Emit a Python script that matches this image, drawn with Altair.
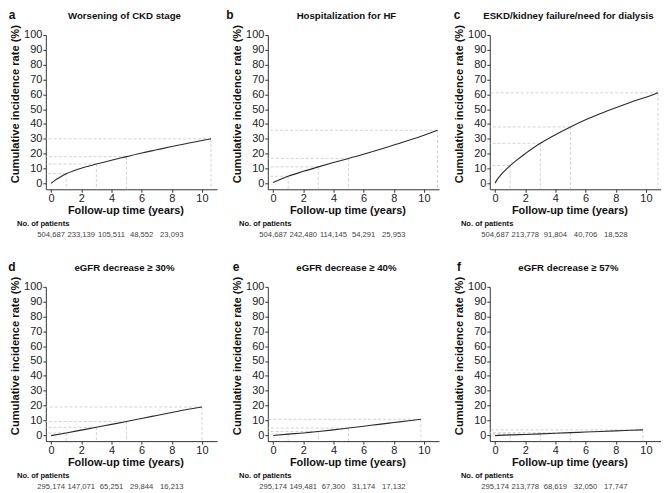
import altair as alt
import pandas as pd

FONT = "Liberation Sans"

TITLES = [
    "Worsening of CKD stage",
    "Hospitalization for HF",
    "ESKD/kidney failure/need for dialysis",
    "eGFR decrease \u2265 30%",
    "eGFR decrease \u2265 40%",
    "eGFR decrease \u2265 57%",
]
LETTERS = ["a", "b", "c", "d", "e", "f"]
LETTER_X = [-34, -38, -33, -34, -32, -31]

# cumulative incidence curves (years, %)
A_T = [0, 0.25, 0.5, 1, 1.5, 2, 3, 4, 5, 6, 7, 8, 9, 10, 10.6]
A_V = [0, 2.0, 3.6, 6.5, 8.5, 10.2, 13.0, 15.6, 18.0, 20.4, 22.6, 24.8, 26.9, 28.9, 30.0]

B_T = [0, 0.5, 1, 2, 3, 4, 5, 6, 7, 8, 9, 10, 10.9]
B_V = [0.5, 2.7, 4.8, 8.1, 11.1, 14.0, 16.8, 19.6, 22.6, 25.8, 29.0, 32.4, 35.8]

C_T = [0, 0.1, 0.25, 0.5, 1, 1.5, 2, 3, 4, 5, 6, 7, 8, 9, 10, 10.8]
C_V = [0, 2.0, 4.0, 7.0, 12.0, 16.2, 20.0, 27.0, 32.8, 38.0, 42.8, 47.1, 51.0, 54.7, 58.0, 61.0]

D_T = [0, 1, 2, 3, 4, 5, 6, 7, 8, 9, 10]
D_V = [-0.3, 1.5, 3.4, 5.3, 7.3, 9.2, 11.3, 13.3, 15.3, 17.3, 19.0]

E_T = [0, 1, 2, 3, 4, 5, 6, 7, 8, 9, 9.8]
E_V = [-0.2, 0.7, 1.5, 2.5, 3.6, 4.8, 6.0, 7.3, 8.5, 9.7, 10.7]

F_T = [0, 1, 2, 3, 4, 5, 6, 7, 8, 9, 9.8]
F_V = [-0.3, 0.2, 0.5, 0.9, 1.3, 1.7, 2.1, 2.5, 2.9, 3.3, 3.6]

REF_T = [1, 3, 5]

RISK_T = [0, 2, 4, 6, 8]
A_RISK = ["504,687", "233,139", "105,511", "48,552", "23,093"]
B_RISK = ["504,687", "242,480", "114,145", "54,291", "25,953"]
C_RISK = ["504,687", "213,778", "91,804", "40,706", "18,528"]
D_RISK = ["295,174", "147,071", "65,251", "29,844", "16,213"]
E_RISK = ["295,174", "149,481", "67,300", "31,174", "17,132"]
F_RISK = ["295,174", "213,778", "68,619", "32,050", "17,747"]

W, H = 172, 155
XMIN, XMAX = -0.35, 11.0
YMIN, YMAX = -4, 100


def panel(title, letter, lx, ts, vs, risk):
    curve = pd.DataFrame({"t": ts, "v": vs})
    lookup = dict(zip(ts, vs))
    ref_t = REF_T + [ts[-1]]
    refs = pd.DataFrame({"t": ref_t, "v": [lookup[x] for x in ref_t]})
    at_risk = pd.DataFrame({"t": RISK_T, "n": risk})

    xs = alt.Scale(domain=[XMIN, XMAX], nice=False, zero=False)
    ys = alt.Scale(domain=[YMIN, YMAX], nice=False, zero=False)
    xaxis = alt.Axis(
        values=[0, 2, 4, 6, 8, 10], title="Follow-up time (years)",
        titleFont=FONT, titleFontSize=11, titleFontWeight="bold", titleColor="#111",
        titleX=80, titlePadding=1,
        labelFont=FONT, labelFontSize=11, labelColor="#222", labelPadding=0,
        labelFlush=False, tickSize=3, tickColor="#333", domainColor="#333",
        grid=False,
    )
    yaxis = alt.Axis(
        values=list(range(0, 101, 10)), title="Cumulative incidence rate (%)",
        titleFont=FONT, titleFontSize=11.2, titleFontWeight="bold", titleColor="#111",
        titleY=69, titlePadding=3,
        labelFont=FONT, labelFontSize=11, labelColor="#222", labelPadding=1,
        labelFlush=False, tickSize=3, tickColor="#333", domainColor="#333",
        grid=False,
    )
    X = alt.X("t:Q", scale=xs, axis=xaxis)
    Y = alt.Y("v:Q", scale=ys, axis=yaxis)

    dash = dict(color="#c8c8c8", strokeWidth=0.8, strokeDash=[3, 2])
    hr = alt.Chart(refs).mark_rule(**dash).encode(x=X, x2=alt.datum(XMIN), y=Y)
    vr = alt.Chart(refs).mark_rule(**dash).encode(x=X, y=Y, y2=alt.datum(YMIN))
    line = alt.Chart(curve).mark_line(
        color="#2a2a2a", strokeWidth=1.1, interpolate="monotone"
    ).encode(x=X, y=Y)

    nums = alt.Chart(at_risk).mark_text(
        font=FONT, fontSize=7.7, color="#444", align="center", baseline="middle"
    ).encode(x=X, y=alt.value(H + 46), text="n:N")

    head = pd.DataFrame({"s": [title], "l": [letter], "p": ["No. of patients"]})
    ttl = alt.Chart(head).mark_text(
        font=FONT, fontSize=9.7, fontWeight="bold", color="#111",
        align="center", baseline="middle"
    ).encode(x=alt.value(79), y=alt.value(-19), text="s:N")
    let = alt.Chart(head).mark_text(
        font=FONT, fontSize=12, fontWeight="bold", color="#111",
        align="center", baseline="middle"
    ).encode(x=alt.value(lx), y=alt.value(-20), text="l:N")
    nop = alt.Chart(head).mark_text(
        font=FONT, fontSize=7.6, fontWeight="bold", color="#111",
        align="left", baseline="middle"
    ).encode(x=alt.value(-29), y=alt.value(H + 35), text="p:N")

    return alt.layer(hr, vr, line, nums, ttl, let, nop).properties(width=W, height=H)


data = [
    (A_T, A_V, A_RISK), (B_T, B_V, B_RISK), (C_T, C_V, C_RISK),
    (D_T, D_V, D_RISK), (E_T, E_V, E_RISK), (F_T, F_V, F_RISK),
]
panels = [
    panel(TITLES[i], LETTERS[i], LETTER_X[i], *data[i]) for i in range(6)
]

chart = alt.concat(
    *panels, columns=3, spacing={"row": 98, "column": 51}, bounds="flush"
).properties(padding=0, background="white").configure_view(stroke=None)

chart.save("out.html", embed_options={"renderer": "svg", "actions": False})
